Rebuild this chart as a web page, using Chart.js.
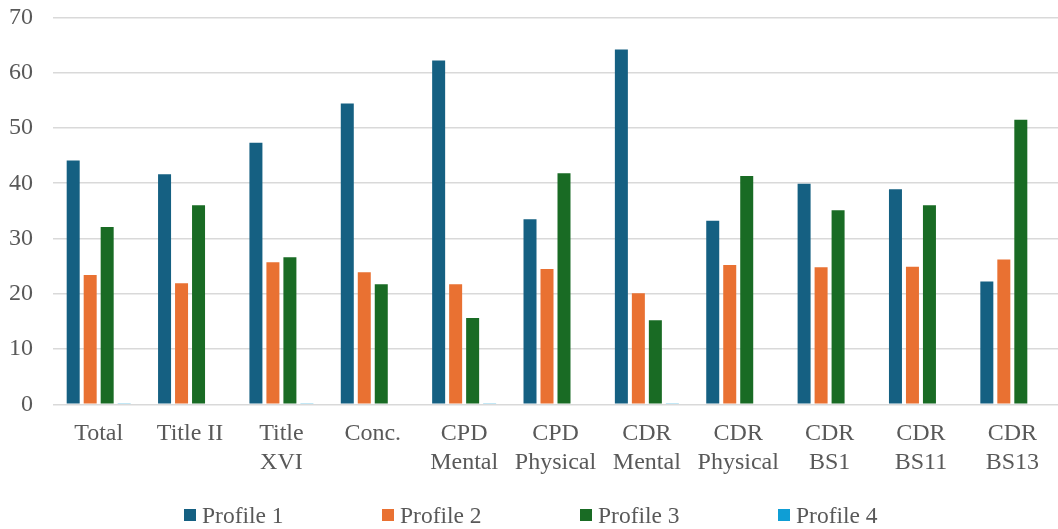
<!DOCTYPE html>
<html>
<head>
<meta charset="utf-8">
<script src="https://cdn.jsdelivr.net/npm/chart.js@4/dist/chart.umd.min.js"></script>
<style>
  html, body { margin: 0; padding: 0; background: #fff; }
  #wrap { position: relative; width: 1058px; height: 529px; }
  #legend {
    position: absolute; left: 184px; top: 500px; height: 30px;
    display: flex; align-items: center;
    font-family: "Liberation Serif", "Times New Roman", serif;
    font-size: 23.5px; color: #595959;
  }
  #legend .item { width: 198px; display: flex; align-items: center; }
  #legend .box { width: 12px; height: 12px; margin-right: 6px; }
</style>
</head>
<body>
<div id="wrap">
  <canvas id="chart" width="1058" height="529"></canvas>
  <div id="legend"></div>
</div>
<script>
// Values
const categories = [
  'Total', 'Title II', ['Title', 'XVI'], 'Conc.', ['CPD', 'Mental'], ['CPD', 'Physical'],
  ['CDR', 'Mental'], ['CDR', 'Physical'], ['CDR', 'BS1'], ['CDR', 'BS11'], ['CDR', 'BS13']
]
const profile1 = [44.1, 41.6, 47.3, 54.4, 62.2, 33.5, 64.2, 33.2, 39.9, 38.9, 22.2]
const profile2 = [23.4, 21.9, 25.7, 23.9, 21.7, 24.5, 20.1, 25.2, 24.8, 24.9, 26.2]
const profile3 = [32.1, 36.0, 26.6, 21.7, 15.6, 41.8, 15.2, 41.3, 35.1, 36.0, 51.5]
const profile4 = [0.2, 0, 0.2, 0, 0.2, 0, 0.2, 0, 0, 0, 0]
const yTicks = [0, 10, 20, 30, 40, 50, 60, 70]

const seriesNames = ['Profile 1', 'Profile 2', 'Profile 3', 'Profile 4']
const seriesColors = ['#156082', '#e97132', '#196b24', '#0f9ed5']

const font = { family: '"Liberation Serif", "Times New Roman", serif', size: 24 }
const textColor = '#595959'

const datasets = [profile1, profile2, profile3, profile4].map((data, i) => ({
  label: seriesNames[i],
  data: data,
  backgroundColor: seriesColors[i],
  borderWidth: 0,
  categoryPercentage: 0.744,
  barPercentage: 0.765
}))

new Chart(document.getElementById('chart').getContext('2d'), {
  type: 'bar',
  data: { labels: categories, datasets: datasets },
  options: {
    responsive: false,
    animation: false,
    layout: { padding: 0 },
    plugins: {
      legend: { display: false },
      tooltip: { enabled: false }
    },
    scales: {
      x: {
        grid: { display: false, drawTicks: false },
        border: { display: false },
        ticks: { font: { ...font, lineHeight: 1.2 }, color: textColor, padding: 15, maxRotation: 0, autoSkip: false },
        afterFit: (scale) => { scale.height = 124.7 }
      },
      y: {
        min: 0,
        max: 70,
        afterBuildTicks: (scale) => { scale.ticks = yTicks.map(v => ({ value: v })) },
        // tick marks hidden, only used to push labels away from the plot
        grid: { color: '#d9d9d9', lineWidth: 1.5, drawTicks: true, tickLength: 17, tickColor: 'rgba(0,0,0,0)' },
        border: { display: false },
        ticks: { font: font, color: textColor, padding: 3 },
        afterFit: (scale) => { scale.width = 53 }
      }
    }
  }
})

// Legend as real text below the chart
const legend = document.getElementById('legend')
seriesNames.forEach((name, i) => {
  const item = document.createElement('div')
  item.className = 'item'
  const box = document.createElement('span')
  box.className = 'box'
  box.style.background = seriesColors[i]
  const label = document.createElement('span')
  label.textContent = name
  item.appendChild(box)
  item.appendChild(label)
  legend.appendChild(item)
})
</script>
</body>
</html>
